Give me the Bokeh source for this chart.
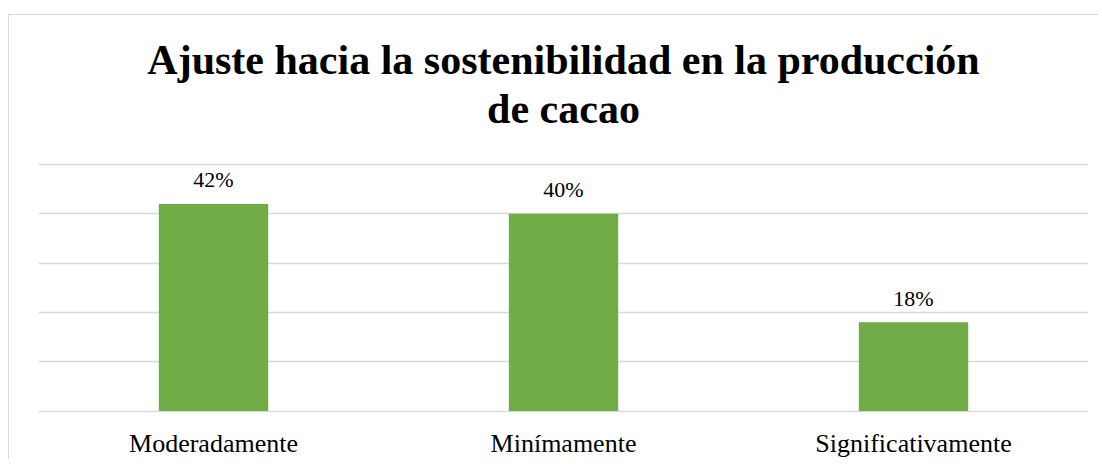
from bokeh.plotting import figure
from bokeh.models import FixedTicker, Range1d, FactorRange, ColumnDataSource
from bokeh.core.properties import value
from bokeh.embed import file_html
from bokeh.resources import INLINE

categories = ["Moderadamente", "Minímamente", "Significativamente"]
values = [0.42, 0.40, 0.18]
labels = ["42%", "40%", "18%"]
y_ticks = [0.0, 0.1, 0.2, 0.3, 0.4, 0.5]
title_lines = ["Ajuste hacia la sostenibilidad en la producción", "de cacao"]

FONT = "Liberation Serif"
GRID = "#d9d9d9"

# layout (pixels): 0.1 units per ~49.3 px
PX_PER_UNIT = 493.0
Y0 = -0.003
FIG_H = 445
BOTTOM = 48
frame_h = FIG_H - BOTTOM
Y1 = Y0 + frame_h / PX_PER_UNIT
# title text positions, in px above the frame bottom
title_y = [Y0 + 353 / PX_PER_UNIT, Y0 + 304 / PX_PER_UNIT]

src = ColumnDataSource(data=dict(cat=categories, val=values, lab=labels))

p = figure(
    x_range=FactorRange(*categories, range_padding=0),
    y_range=Range1d(Y0, Y1),
    width=1090, height=FIG_H,
    output_backend="svg", toolbar_location=None,
    min_border_left=29, min_border_right=11, min_border_top=0, min_border_bottom=BOTTOM,
    title=None,
)
p.styles = {"margin-left": "8px", "margin-top": "14px",
            "border-left": f"1px solid {GRID}", "border-top": f"1px solid {GRID}"}
p.outline_line_color = None

p.vbar(x="cat", top="val", width=0.3125, source=src, fill_color="#70AD47", line_color=None)
p.text(x="cat", y="val", text="lab", source=src, text_align="center", text_baseline="alphabetic",
       y_offset=-24, text_font=value(FONT), text_font_size="22px", text_color="#000000")

mid = categories[len(categories) // 2]
p.text(x=[mid, mid], y=title_y, text=title_lines, text_align="center", text_baseline="alphabetic",
       text_font=value(FONT), text_font_size="42px", text_font_style="bold", text_color="#000000")

p.xgrid.visible = False
p.ygrid.ticker = FixedTicker(ticks=y_ticks)
p.ygrid.grid_line_color = GRID
p.ygrid.grid_line_width = 1.5
p.yaxis.visible = False

ax = p.xaxis[0]
ax.axis_line_color = None
ax.major_tick_line_color = None
ax.minor_tick_line_color = None
ax.major_label_text_font = FONT
ax.major_label_text_font_size = "26px"
ax.major_label_text_color = "#000000"
ax.major_label_standoff = 10

open("out.html", "w").write(file_html(p, INLINE))
